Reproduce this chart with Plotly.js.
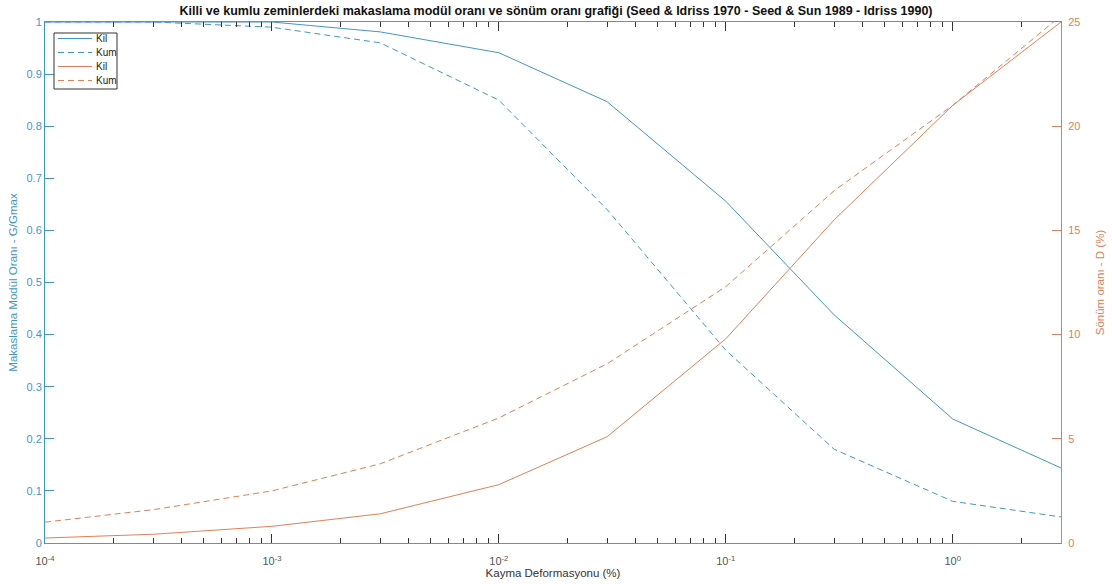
<!DOCTYPE html>
<html>
<head>
<meta charset="utf-8">
<script src="https://cdn.plot.ly/plotly-3.0.1.min.js"></script>
<style>html,body{margin:0;padding:0;background:#fff}#chart{width:1112px;height:584px}</style>
</head>
<body>
<div id="chart"></div>
<script>
// Shear strain (%)
const strain = [0.0001, 0.0003, 0.001, 0.003, 0.01, 0.03, 0.1, 0.3, 1, 3];
// Shear modulus ratio G/Gmax
const gClay = [1.0, 1.0, 1.0, 0.981, 0.941, 0.847, 0.656, 0.438, 0.238, 0.144];
const gSand = [1.0, 1.0, 0.99, 0.96, 0.85, 0.64, 0.37, 0.18, 0.08, 0.05];
// Damping ratio D (%)
const dClay = [0.24, 0.42, 0.8, 1.4, 2.8, 5.1, 9.8, 15.5, 21.0, 25.0];
const dSand = [1.0, 1.6, 2.5, 3.8, 6.0, 8.6, 12.3, 16.9, 21.0, 25.3];
// tick labels
const xTickVals = [0.0001, 0.001, 0.01, 0.1, 1];
const xTickText = ['10<sup>-4</sup>', '10<sup>-3</sup>', '10<sup>-2</sup>', '10<sup>-1</sup>', '10<sup>0</sup>'];
const yTickVals = [0, 0.1, 0.2, 0.3, 0.4, 0.5, 0.6, 0.7, 0.8, 0.9, 1];
const yTickText = ['0', '0.1', '0.2', '0.3', '0.4', '0.5', '0.6', '0.7', '0.8', '0.9', '1'];
const y2TickVals = [0, 5, 10, 15, 20, 25];
const legendNames = ['Kil', 'Kum', 'Kil', 'Kum'];

const minorX = [];
for (let e = -4; e <= 0; e++) {
  for (let m = 2; m <= 9; m++) {
    const v = m * Math.pow(10, e);
    if (v <= 3) minorX.push(v);
  }
}

const blue = '#3f97c5';
const orange = '#e07f55';
const colors = [blue, blue, orange, orange];
const dashes = ['solid', '6px,4px', 'solid', '6px,4px'];

const traces = [
  {x: strain, y: gClay, name: legendNames[0], mode: 'lines', line: {color: colors[0], width: 1}, yaxis: 'y'},
  {x: strain, y: gSand, name: legendNames[1], mode: 'lines', line: {color: colors[1], width: 1, dash: dashes[1]}, yaxis: 'y'},
  {x: strain, y: dClay, name: legendNames[2], mode: 'lines', line: {color: colors[2], width: 1}, yaxis: 'y2'},
  {x: strain, y: dSand, name: legendNames[3], mode: 'lines', line: {color: colors[3], width: 1, dash: dashes[3]}, yaxis: 'y2'}
];

const fontFam = 'Liberation Sans, Arial, sans-serif';

// plot-area geometry in pixels (for the hand-made legend box)
const M = {l: 45, r: 51, t: 22, b: 41};
const W = 1112, H = 584;
const pw = W - M.l - M.r, ph = H - M.t - M.b;
const px = v => (v - M.l) / pw;
const py = v => (H - M.b - v) / ph;

const shapes = [];
const annotations = [];
shapes.push({type: 'rect', xref: 'paper', yref: 'paper', x0: px(54), x1: px(117), y0: py(89), y1: py(33),
             line: {color: '#333', width: 1}, fillcolor: '#fff', layer: 'above'});
const rowY = [38.5, 52.5, 66.5, 80.5];
legendNames.forEach((n, i) => {
  shapes.push({type: 'line', xref: 'paper', yref: 'paper', x0: px(58), x1: px(92), y0: py(rowY[i]), y1: py(rowY[i]),
               line: {color: colors[i], width: 1, dash: dashes[i]}, layer: 'above'});
  annotations.push({xref: 'paper', yref: 'paper', x: px(94), y: py(rowY[i]), xanchor: 'left', yanchor: 'middle',
                    text: n, showarrow: false, font: {family: fontFam, size: 10, color: '#222'}});
});

const layout = {
  width: W, height: H,
  margin: M,
  paper_bgcolor: '#fff', plot_bgcolor: '#fff',
  font: {family: fontFam, size: 11, color: '#444'},
  title: {text: '<b>Killi ve kumlu zeminlerdeki makaslama modül oranı ve sönüm oranı grafiği (Seed & Idriss 1970 - Seed & Sun 1989 - Idriss 1990)</b>',
          font: {family: fontFam, size: 12.5, color: '#111'}, x: 0.5, xanchor: 'center', y: 1 - 11 / H, yanchor: 'middle'},
  showlegend: false,
  shapes: shapes,
  annotations: annotations,
  xaxis: {
    type: 'log', range: [-4, Math.log10(3)],
    tickmode: 'array', tickvals: xTickVals, ticktext: xTickText,
    ticks: 'inside', ticklen: 9, tickcolor: '#333', tickwidth: 1,
    minor: {tickmode: 'array', tickvals: minorX, ticks: 'inside', ticklen: 5, tickcolor: '#333', showgrid: false},
    showline: true, linecolor: '#888', linewidth: 1, mirror: 'ticks',
    showgrid: false, zeroline: false,
    ticklabelstandoff: 8,
    tickfont: {family: fontFam, size: 11, color: '#555'},
    title: {text: 'Kayma Deformasyonu (%)', font: {family: fontFam, size: 11.5, color: '#333'}, standoff: 2}
  },
  yaxis: {
    range: [0, 1], tickmode: 'array', tickvals: yTickVals, ticktext: yTickText,
    ticks: 'inside', ticklen: 9, tickcolor: blue, tickwidth: 1,
    showline: true, linecolor: blue, linewidth: 1,
    showgrid: false, zeroline: false,
    tickfont: {family: fontFam, size: 11, color: blue},
    title: {text: 'Makaslama Modül Oranı - G/Gmax', font: {family: fontFam, size: 11.5, color: blue}, standoff: 6}
  },
  yaxis2: {
    range: [0, 25], overlaying: 'y', side: 'right', tickmode: 'array', tickvals: y2TickVals,
    ticks: 'inside', ticklen: 9, tickcolor: orange, tickwidth: 1,
    showline: true, linecolor: orange, linewidth: 1,
    showgrid: false, zeroline: false,
    ticklabelstandoff: 4,
    tickfont: {family: fontFam, size: 11, color: orange},
    title: {text: 'Sönüm oranı - D (%)', font: {family: fontFam, size: 11.5, color: orange}, standoff: 16}
  }
};

Plotly.newPlot('chart', traces, layout, {displayModeBar: false, staticPlot: true});
</script>
</body>
</html>
